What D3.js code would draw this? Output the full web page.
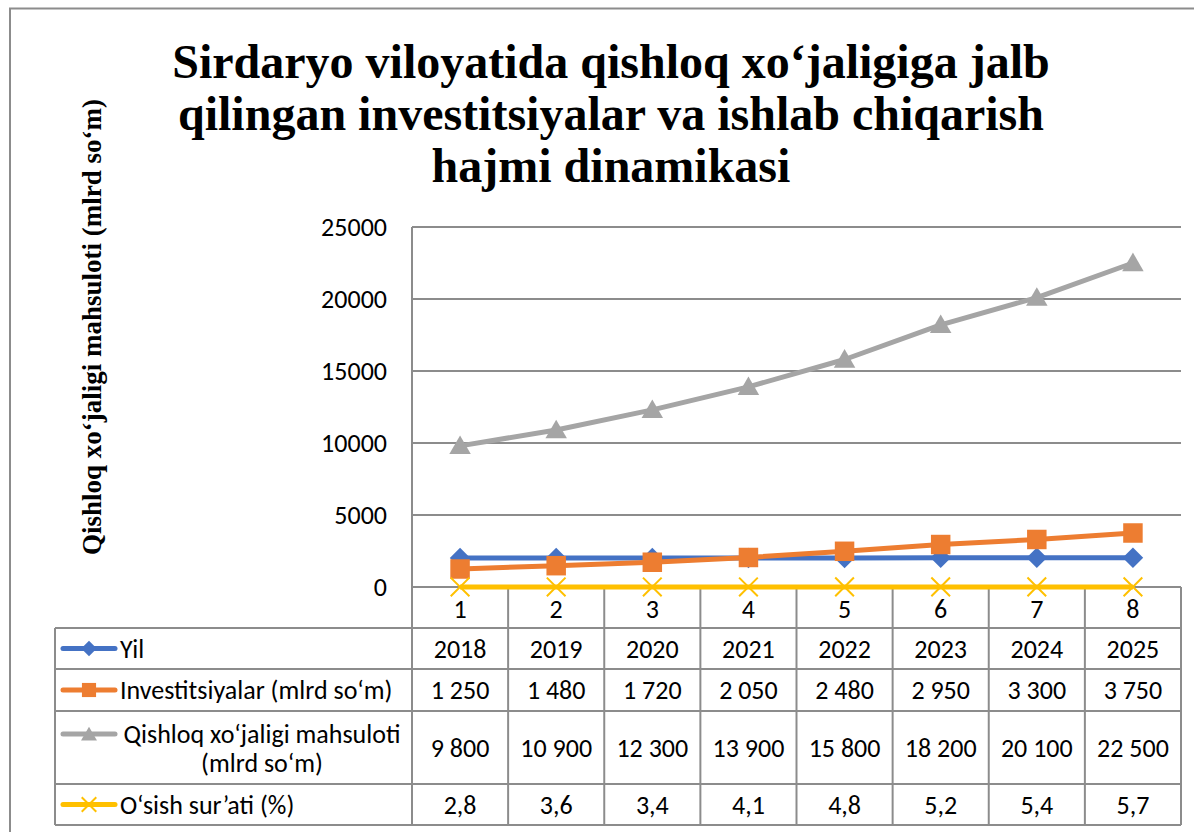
<!DOCTYPE html>
<html lang="en">
<head>
  <meta charset="UTF-8">
  <title>Sirdaryo</title>
  <style>
    body { margin: 0; background: #fff; }
    text { font-family: Carlito, Calibri, Lato, sans-serif; }
  </style>
</head>
<body>

  <svg id="svg" width="1194" height="832"></svg>

  <script src="https://d3js.org/d3.v7.min.js"></script>
  <script>
    const categories = ['1', '2', '3', '4', '5', '6', '7', '8']
    const years = [2018, 2019, 2020, 2021, 2022, 2023, 2024, 2025]
    const invest = [1250, 1480, 1720, 2050, 2480, 2950, 3300, 3750]
    const product = [9800, 10900, 12300, 13900, 15800, 18200, 20100, 22500]
    const growth = [2.8, 3.6, 3.4, 4.1, 4.8, 5.2, 5.4, 5.7]
    const yTicks = [0, 5000, 10000, 15000, 20000, 25000]
    const titleLines = [
      'Sirdaryo viloyatida qishloq xo‘jaligiga jalb',
      'qilingan investitsiyalar va ishlab chiqarish',
      'hajmi dinamikasi'
    ]
    const yTitle = 'Qishloq xo‘jaligi mahsuloti (mlrd so‘m)'

    const uz = d3.formatLocale({ decimal: ',', thousands: ' ', grouping: [3], currency: ['', ''] })
    const fmtNum = uz.format(',d')
    const fmtPct = uz.format('.1f')

    const series = [
      { name: ['Yil'], values: years, color: '#4472C4', symbol: 'diamond', text: d => String(d) },
      { name: ['Investitsiyalar (mlrd so‘m)'], values: invest, color: '#ED7D31', symbol: 'square', text: fmtNum },
      { name: ['Qishloq xo‘jaligi mahsuloti', '(mlrd so‘m)'], values: product, color: '#A5A5A5', symbol: 'triangle', text: fmtNum },
      { name: ['O‘sish sur’ati (%)'], values: growth, color: '#FFC000', symbol: 'x', text: fmtPct }
    ]

    const svg = d3.select('#svg')
    const grid = '#8c8c8c'
    const fs = '26px'

    // outer chart border (only top/left visible)
    svg.append('path')
      .attr('d', 'M10,832V8.5H1194')
      .attr('fill', 'none')
      .attr('stroke', grid)
      .attr('stroke-width', 2)

    // title
    svg.append('text')
      .attr('x', 611)
      .attr('y', 0)
      .attr('text-anchor', 'middle')
      .style('font-family', '"Liberation Serif", "Times New Roman", serif')
      .style('font-weight', 'bold')
      .style('font-size', '48px')
      .selectAll('tspan')
      .data(titleLines)
      .join('tspan')
      .attr('x', 611)
      .attr('y', (d, i) => 78 + i * 52)
      .text(d => d)

    // y axis title
    svg.append('text')
      .attr('transform', 'translate(101,327) rotate(-90)')
      .attr('text-anchor', 'middle')
      .style('font-family', '"Liberation Serif", "Times New Roman", serif')
      .style('font-weight', 'bold')
      .style('font-size', '27px')
      .text(yTitle)

    const x = d3.scaleBand()
      .domain(categories)
      .range([412, 1181])
    const y = d3.scaleLinear()
      .domain([0, 25000])
      .range([587, 227])

    // gridlines
    svg.append('g')
      .selectAll('line')
      .data(yTicks)
      .join('line')
      .attr('x1', 412)
      .attr('x2', 1181)
      .attr('y1', d => y(d))
      .attr('y2', d => y(d))
      .attr('stroke', grid)
      .attr('stroke-width', 2)

    svg.append('line')
      .attr('x1', 412).attr('x2', 412)
      .attr('y1', 227).attr('y2', 587)
      .attr('stroke', grid)
      .attr('stroke-width', 2)

    // tick labels
    svg.append('g')
      .selectAll('text')
      .data(yTicks)
      .join('text')
      .attr('x', 387)
      .attr('y', d => y(d))
      .attr('dy', '0.35em')
      .attr('text-anchor', 'end')
      .style('font-size', fs)
      .text(d => d)

    // data table
    const rowTops = [587, 628, 669, 711, 784, 825]
    const tableLeft = 55
    const cellLines = svg.append('g')
      .attr('stroke', grid)
      .attr('stroke-width', 2)
    rowTops.forEach((t, i) => {
      cellLines.append('line')
        .attr('x1', i === 0 ? 412 : tableLeft)
        .attr('x2', 1181)
        .attr('y1', t).attr('y2', t)
    })
    const cols = [412].concat(categories.map(c => x(c) + x.bandwidth()))
    cols.forEach(cx => {
      cellLines.append('line')
        .attr('x1', cx).attr('x2', cx)
        .attr('y1', 587).attr('y2', 825)
    })
    cellLines.append('line')
      .attr('x1', tableLeft).attr('x2', tableLeft)
      .attr('y1', 628).attr('y2', 825)

    // category labels
    svg.append('g')
      .selectAll('text')
      .data(categories)
      .join('text')
      .attr('x', d => x(d) + x.bandwidth() / 2)
      .attr('y', 609)
      .attr('dy', '0.35em')
      .attr('text-anchor', 'middle')
      .style('font-size', fs)
      .text(d => d)

    const symbolPath = (type, size) => {
      if (type === 'diamond') return d3.symbol(d3.symbolSquare, size)()
      if (type === 'square') return d3.symbol(d3.symbolSquare, size)()
      if (type === 'triangle') return d3.symbol(d3.symbolTriangle, size)()
      return d3.symbol(d3.symbolTimes, size)()
    }
    const markerSizes = { diamond: 210, square: 380, triangle: 200, x: 230 }
    const legendSizes = { diamond: 120, square: 200, triangle: 110, x: 140 }

    const drawMarker = (g, s, cx, cy, size) => {
      const p = g.append('path')
        .attr('d', symbolPath(s.symbol, size))
      if (s.symbol === 'x') {
        p.attr('transform', `translate(${cx},${cy})`)
          .attr('fill', 'none')
          .attr('stroke', s.color)
          .attr('stroke-width', 2)
      } else {
        const rot = s.symbol === 'diamond' ? ' rotate(45)' : ''
        const dy = s.symbol === 'triangle' ? 2 : 0
        p.attr('transform', `translate(${cx},${cy + dy})${rot}`)
          .attr('fill', s.color)
      }
    }

    // table rows
    series.forEach((s, i) => {
      const top = rowTops[i + 1]
      const bottom = rowTops[i + 2]
      const mid = (top + bottom) / 2
      const keyY = s.name.length > 1 ? top + 23 : mid
      const key = svg.append('g')
      key.append('line')
        .attr('x1', 63).attr('x2', 115)
        .attr('y1', keyY).attr('y2', keyY)
        .attr('stroke', s.color)
        .attr('stroke-width', 5)
        .attr('stroke-linecap', 'round')
      drawMarker(key, s, 89, keyY, legendSizes[s.symbol])

      if (s.name.length > 1) {
        svg.append('text')
          .attr('text-anchor', 'middle')
          .style('font-size', fs)
          .selectAll('tspan')
          .data(s.name)
          .join('tspan')
          .attr('x', 262)
          .attr('y', (d, j) => keyY + j * 29)
          .attr('dy', '0.35em')
          .text(d => d)
      } else {
        svg.append('text')
          .attr('x', 120)
          .attr('y', mid)
          .attr('dy', '0.35em')
          .style('font-size', fs)
          .text(s.name[0])
      }

      svg.append('g')
        .selectAll('text')
        .data(s.values)
        .join('text')
        .attr('x', (d, j) => x(categories[j]) + x.bandwidth() / 2)
        .attr('y', mid)
        .attr('dy', '0.35em')
        .attr('text-anchor', 'middle')
        .style('font-size', fs)
        .text(d => s.text(d))
    })

    // lines + markers
    const line = d3.line()
      .x((d, j) => x(categories[j]) + x.bandwidth() / 2)
      .y(d => y(d))
    series.forEach(s => {
      const g = svg.append('g')
      g.append('path')
        .attr('d', line(s.values))
        .attr('fill', 'none')
        .attr('stroke', s.color)
        .attr('stroke-width', 5)
        .attr('stroke-linejoin', 'round')
      s.values.forEach((v, j) => {
        drawMarker(g, s, x(categories[j]) + x.bandwidth() / 2, y(v), markerSizes[s.symbol])
      })
    })
  </script>
</body>
</html>
